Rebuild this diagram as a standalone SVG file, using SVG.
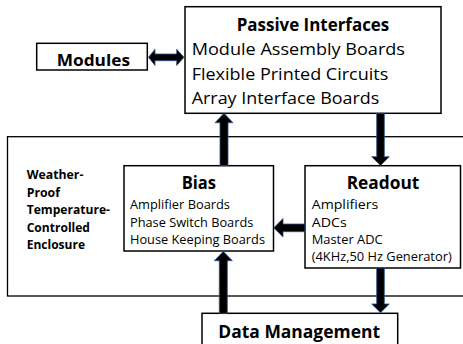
<svg xmlns="http://www.w3.org/2000/svg" width="463" height="344" viewBox="0 0 463 344">
<style>
  .box { fill: #ffffff; stroke: #000000; stroke-width: 1.5; }
  .encl { fill: none; stroke: #000000; stroke-width: 1.3; }
  .arrow { fill: #000000; stroke: #2f528f; stroke-width: 0.8; stroke-linejoin: miter; }
  text { font-family: "Open Sans", "Liberation Sans", sans-serif; fill: #000000; }
  .t1 { font-size: 17.5px; font-weight: bold; }
  .t2 { font-size: 16.5px; }
  .t3 { font-size: 12.8px; }
  .t3b { font-size: 12.8px; font-weight: bold; }
  .tm { font-size: 15.5px; font-weight: bold; }
</style>
<rect width="463" height="344" fill="#ffffff"/>
<g id="enclosure">
  <rect class="encl" x="7.5" y="136.7" width="470" height="159.3"/>
  <text class="t3b" x="26.7" y="179" textLength="56.7" lengthAdjust="spacingAndGlyphs">Weather-</text>
  <text class="t3b" x="26.7" y="196.5" textLength="33.3" lengthAdjust="spacingAndGlyphs">Proof</text>
  <text class="t3b" x="26.7" y="214" textLength="83.3" lengthAdjust="spacingAndGlyphs">Temperature-</text>
  <text class="t3b" x="26.7" y="231.5" textLength="63.3" lengthAdjust="spacingAndGlyphs">Controlled</text>
  <text class="t3b" x="26.7" y="249" textLength="58.3" lengthAdjust="spacingAndGlyphs">Enclosure</text>
</g>
<g id="modules">
  <rect class="box" x="36.7" y="43.3" width="110.6" height="26.7"/>
  <text class="tm" x="56.7" y="66" textLength="73.3" lengthAdjust="spacingAndGlyphs">Modules</text>
</g>
<g id="passive-interfaces">
  <rect class="box" x="185" y="6.7" width="256" height="106.6"/>
  <text class="t1" x="236.7" y="30.7" textLength="152.6" lengthAdjust="spacingAndGlyphs">Passive Interfaces</text>
  <text class="t2" x="191.7" y="55" textLength="213.3" lengthAdjust="spacingAndGlyphs">Module Assembly Boards</text>
  <text class="t2" x="191.7" y="79.5" textLength="196.6" lengthAdjust="spacingAndGlyphs">Flexible Printed Circuits</text>
  <text class="t2" x="191.7" y="104" textLength="187.6" lengthAdjust="spacingAndGlyphs">Array Interface Boards</text>
</g>
<g id="bias">
  <rect class="box" x="124" y="165.7" width="149.5" height="85.3"/>
  <text class="t1" x="181.7" y="189" textLength="34.3" lengthAdjust="spacingAndGlyphs">Bias</text>
  <text class="t3" x="130" y="209" textLength="100" lengthAdjust="spacingAndGlyphs">Amplifier Boards</text>
  <text class="t3" x="130" y="226.7" textLength="123.3" lengthAdjust="spacingAndGlyphs">Phase Switch Boards</text>
  <text class="t3" x="130" y="244" textLength="135" lengthAdjust="spacingAndGlyphs">House Keeping Boards</text>
</g>
<g id="readout">
  <rect class="box" x="305" y="165.7" width="155.5" height="102.3"/>
  <text class="t1" x="346.7" y="189" textLength="72.6" lengthAdjust="spacingAndGlyphs">Readout</text>
  <text class="t3" x="311.7" y="209" textLength="66.6" lengthAdjust="spacingAndGlyphs">Amplifiers</text>
  <text class="t3" x="311.7" y="226.7" textLength="35" lengthAdjust="spacingAndGlyphs">ADCs</text>
  <text class="t3" x="311.7" y="244" textLength="71" lengthAdjust="spacingAndGlyphs">Master ADC</text>
  <text class="t3" x="311.7" y="261" textLength="140" lengthAdjust="spacingAndGlyphs">(4KHz,50 Hz Generator)</text>
</g>
<g id="data-management">
  <rect class="box" x="202" y="313.3" width="195.7" height="40"/>
  <text class="t1" x="218.3" y="338.3" textLength="161.7" lengthAdjust="spacingAndGlyphs">Data Management</text>
</g>
<g id="connectors">
  <polygon class="arrow" points="155,54 176.7,54 176.7,49.3 184,57.3 176.7,65.5 176.7,60.7 155,60.7 155,65.5 148.5,57.3 155,49.3"/>
  <polygon class="arrow" points="220,165.7 220,122.7 215,122.7 224,113.3 233,122.7 228,122.7 228,165.7"/>
  <polygon class="arrow" points="376.7,113.3 384.3,113.3 384.3,156.7 389.3,156.7 380.5,165.5 371.7,156.7 376.7,156.7"/>
  <polygon class="arrow" points="305,224 283,224 283,218.5 273.8,227.8 283,237 283,231.7 305,231.7"/>
  <polygon class="arrow" points="219.3,313.3 219.3,260.7 214.3,260.7 223.3,251.5 232.3,260.7 227.3,260.7 227.3,313.3"/>
  <polygon class="arrow" points="376.7,268 384.3,268 384.3,304 389.3,304 380.5,312.7 371.7,304 376.7,304"/>
</g>
</svg>
